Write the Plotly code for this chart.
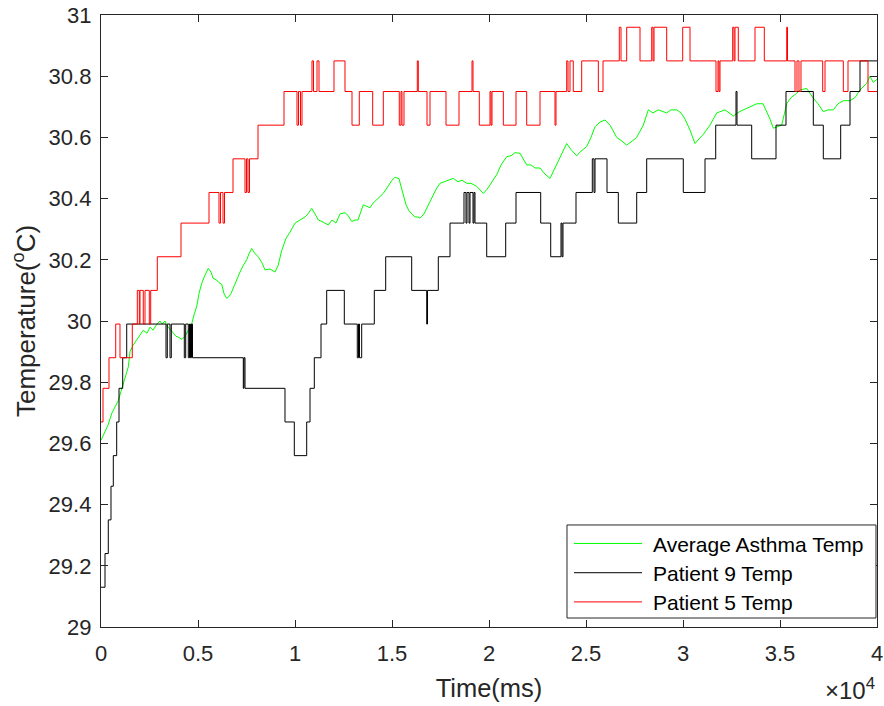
import plotly.graph_objects as go

# ---------------- data (time in ms, temperature in degC) ----------------
avg_t = [0, 67, 206, 361, 567, 722, 892, 1031, 1186, 1407, 1495, 1650, 1856, 2098, 2180, 2371, 2526, 2680,
         2887, 3041, 3144, 3299, 3454, 3608, 3727, 3866, 3985, 4175, 4330, 4485, 4675, 4794, 4933, 5052,
         5191, 5361, 5531, 5670, 5773, 5964, 6083, 6222, 6340, 6479, 6598, 6701, 6907, 7062, 7165, 7320,
         7510, 7629, 7768, 7938, 8108, 8299, 8454, 8711, 8969, 9124, 9314, 9536, 9742, 10000, 10258,
         10515, 10670, 10861, 11031, 11201, 11392, 11717, 11907, 12113, 12320, 12577, 12732, 12923, 13093,
         13247, 13521, 13866, 14021, 14279, 14552, 14794, 15000, 15155, 15361, 15464, 15583, 15722, 15876,
         16016, 16186, 16340, 16443, 16649, 16871, 17062, 17268, 17474, 17680, 17887, 18160, 18402, 18608,
         18850, 19072, 19366, 19536, 19706, 19897, 20222, 20413, 20619, 20912, 21134, 21340, 21598, 21753,
         21943, 22165, 22371, 22629, 22887, 23144, 23402, 23660, 24005, 24227, 24521, 24742, 25036, 25258,
         25464, 25722, 25979, 26237, 26392, 26583, 26804, 27098, 27320, 27613, 27784, 27954, 28212, 28454,
         28727, 28918, 29160, 29381, 29675, 29897, 30103, 30361, 30619, 30825, 31047, 31392, 31737, 32165,
         32593, 32938, 33454, 33799, 34124, 34485, 34655, 34845, 35088, 35346, 35567, 35861, 36031, 36376,
         36717, 36959, 37232, 37475, 37748, 37990, 38263, 38608, 38866, 39124, 39294, 39470, 39639, 39809,
         40000]
avg_temp = [29.61, 29.62, 29.64, 29.66, 29.70, 29.72, 29.74, 29.77, 29.80, 29.85, 29.90, 29.92, 29.94, 29.96,
            29.97, 29.96, 29.98, 29.97, 29.99, 30.00, 29.99, 30.00, 29.98, 29.97, 29.96, 29.95, 29.947, 29.94,
            29.95, 29.97, 29.99, 30.02, 30.047, 30.09, 30.123, 30.15, 30.172, 30.16, 30.14, 30.134, 30.125,
            30.12, 30.09, 30.074, 30.08, 30.09, 30.123, 30.15, 30.16, 30.18, 30.20, 30.22, 30.237, 30.22,
            30.21, 30.19, 30.167, 30.17, 30.16, 30.18, 30.23, 30.27, 30.29, 30.32, 30.33, 30.34, 30.35,
            30.368, 30.35, 30.33, 30.325, 30.314, 30.33, 30.32, 30.35, 30.354, 30.345, 30.325, 30.33, 30.33,
            30.38, 30.37, 30.385, 30.40, 30.417, 30.44, 30.46, 30.47, 30.465, 30.44, 30.41, 30.38, 30.36,
            30.35, 30.34, 30.34, 30.336, 30.35, 30.38, 30.40, 30.43, 30.45, 30.455, 30.46, 30.466, 30.455,
            30.46, 30.45, 30.45, 30.44, 30.43, 30.417, 30.43, 30.46, 30.48, 30.51, 30.537, 30.54, 30.55,
            30.548, 30.53, 30.51, 30.51, 30.50, 30.50, 30.48, 30.466, 30.50, 30.537, 30.58, 30.56, 30.54,
            30.555, 30.57, 30.60, 30.635, 30.65, 30.657, 30.64, 30.62, 30.60, 30.59, 30.575, 30.585, 30.60,
            30.62, 30.64, 30.69, 30.68, 30.69, 30.685, 30.68, 30.69, 30.69, 30.68, 30.66, 30.624, 30.58,
            30.595, 30.61, 30.64, 30.68, 30.69, 30.67, 30.685, 30.70, 30.71, 30.71, 30.66, 30.63, 30.635,
            30.64, 30.71, 30.73, 30.744, 30.755, 30.76, 30.728, 30.71, 30.684, 30.69, 30.69, 30.71, 30.72,
            30.72, 30.73, 30.755, 30.766, 30.777, 30.80, 30.78, 30.79]

p9_t = [0, 206, 376, 515, 634, 809, 928, 1119, 1325, 3351, 3418, 3557, 3624, 4294, 4366, 4500, 4562, 4613,
        4665, 4716, 7335, 7371, 7423, 9484, 9964, 10603, 10773, 10995, 11340, 11634, 12541, 13211, 13273,
        13325, 13438, 14088, 14675, 16015, 16789, 16830, 17387, 17990, 18711, 18814, 18866, 18969, 19021,
        19175, 19227, 19278, 19882, 20861, 21392, 22665, 23181, 23711, 23763, 23814, 24485, 25325, 25413,
        25464, 26083, 26666, 27614, 28129, 30015, 31134, 31686, 32732, 32784, 33541, 34794, 35309, 36717,
        37232, 38128, 38608, 39124, 40000]
p9_temp = [29.13, 29.24, 29.35, 29.46, 29.56, 29.67, 29.78, 29.88, 29.99, 29.88, 29.99, 29.88, 29.99, 29.88,
           29.99, 29.88, 29.99, 29.88, 29.99, 29.88, 29.78, 29.88, 29.78, 29.67, 29.56, 29.67, 29.78, 29.88,
           29.99, 30.10, 29.99, 29.88, 29.99, 29.88, 29.99, 30.10, 30.21, 30.10, 29.99, 30.10, 30.21, 30.32,
           30.42, 30.32, 30.42, 30.32, 30.42, 30.32, 30.42, 30.32, 30.21, 30.32, 30.42, 30.32, 30.21, 30.32,
           30.21, 30.32, 30.42, 30.53, 30.42, 30.53, 30.42, 30.32, 30.42, 30.53, 30.42, 30.53, 30.64, 30.75,
           30.64, 30.53, 30.64, 30.75, 30.64, 30.53, 30.64, 30.75, 30.85, 30.85]

p5_t = [0, 103, 412, 758, 979, 1613, 1871, 1974, 2010, 2180, 2268, 2490, 2562, 2902, 4124, 5567, 6082, 6160,
        6289, 6366, 6804, 7423, 7500, 7577, 7655, 8093, 9433, 10103, 10180, 10284, 10361, 10876, 10954,
        11134, 11237, 12010, 12577, 12938, 13314, 14005, 14552, 15376, 15464, 15515, 15618, 16304, 16356,
        16804, 16959, 17784, 18454, 19124, 19175, 19500, 20052, 20103, 20155, 20738, 21392, 21943, 22629,
        23402, 23454, 24005, 24072, 24175, 24345, 24778, 25636, 25877, 26717, 26804, 27098, 27784, 28387,
        28454, 28506, 29160, 29985, 30361, 31701, 31804, 31856, 31907, 32562, 32629, 32681, 32851, 33711,
        34191, 35346, 35387, 35773, 35876, 35979, 36082, 37201, 37320, 38263, 38505, 39536, 40000]
p5_temp = [29.67, 29.78, 29.88, 29.99, 29.88, 29.99, 30.10, 29.99, 30.10, 29.99, 30.10, 29.99, 30.10, 30.21,
           30.32, 30.42, 30.32, 30.42, 30.32, 30.42, 30.53, 30.42, 30.53, 30.42, 30.53, 30.64, 30.75, 30.64,
           30.75, 30.64, 30.75, 30.85, 30.75, 30.85, 30.75, 30.85, 30.75, 30.64, 30.75, 30.64, 30.75, 30.64,
           30.75, 30.64, 30.75, 30.85, 30.75, 30.64, 30.75, 30.64, 30.75, 30.85, 30.75, 30.64, 30.75, 30.64,
           30.75, 30.64, 30.75, 30.64, 30.75, 30.64, 30.75, 30.85, 30.75, 30.85, 30.75, 30.85, 30.75, 30.85,
           30.96, 30.85, 30.96, 30.85, 30.96, 30.85, 30.96, 30.85, 30.96, 30.85, 30.75, 30.85, 30.75, 30.85,
           30.96, 30.85, 30.96, 30.85, 30.96, 30.85, 30.96, 30.85, 30.75, 30.85, 30.75, 30.85, 30.75, 30.85,
           30.75, 30.85, 30.75, 30.75]

series_names = ["Average Asthma Temp", "Patient 9 Temp", "Patient 5 Temp"]
series_colors = ["#00FF00", "#000000", "#FF0000"]

x_tickvals = [0, 5000, 10000, 15000, 20000, 25000, 30000, 35000, 40000]
x_ticktext = ["0", "0.5", "1", "1.5", "2", "2.5", "3", "3.5", "4"]
y_tickvals = [29, 29.2, 29.4, 29.6, 29.8, 30, 30.2, 30.4, 30.6, 30.8, 31]
y_ticktext = ["29", "29.2", "29.4", "29.6", "29.8", "30", "30.2", "30.4", "30.6", "30.8", "31"]

FONT = "Liberation Sans, Arial, Helvetica, sans-serif"
AX = "#262626"

fig = go.Figure()
fig.add_trace(go.Scatter(x=avg_t, y=avg_temp, mode="lines", name=series_names[0],
                         line=dict(color=series_colors[0], width=1)))
fig.add_trace(go.Scatter(x=p9_t, y=p9_temp, mode="lines", name=series_names[1],
                         line=dict(color=series_colors[1], width=1, shape="hv")))
fig.add_trace(go.Scatter(x=p5_t, y=p5_temp, mode="lines", name=series_names[2],
                         line=dict(color=series_colors[2], width=1, shape="hv")))

axis_common = dict(showgrid=False, zeroline=False, showline=True, linecolor=AX, linewidth=1.3,
                   mirror="ticks", ticks="inside", ticklen=7, tickwidth=1.3, tickcolor=AX,
                   automargin=False, tickfont=dict(family=FONT, size=22, color=AX))

fig.update_layout(
    width=884, height=706,
    margin=dict(l=101, r=7, t=15, b=79),
    paper_bgcolor="white", plot_bgcolor="white",
    font=dict(family=FONT, color=AX),
    showlegend=False,
    xaxis=dict(range=[0, 40000], tickvals=x_tickvals, ticktext=x_ticktext, ticklabelstandoff=6,
               title=dict(text="Time(ms)", font=dict(family=FONT, size=25.5, color=AX), standoff=14),
               **axis_common),
    yaxis=dict(range=[29, 31], tickvals=y_tickvals, ticktext=y_ticktext, ticklabelstandoff=4,
               title=dict(text="Temperature(<sup>o</sup>C)", font=dict(family=FONT, size=26, color=AX),
                          standoff=5),
               **axis_common),
)

# legend drawn in the MATLAB style (box + long line samples), text kept as real text
leg_x0, leg_x1, leg_y0, leg_y1 = 0.6005, 0.9987, 0.0147, 0.1667
fig.add_shape(type="rect", xref="paper", yref="paper", x0=leg_x0, x1=leg_x1, y0=leg_y0, y1=leg_y1,
              line=dict(color=AX, width=1), fillcolor="white", layer="above")
leg_rows = [0.1365, 0.0887, 0.0410]
for name, color, yy in zip(series_names, series_colors, leg_rows):
    fig.add_shape(type="line", xref="paper", yref="paper", x0=0.6095, x1=0.6972, y0=yy, y1=yy,
                  line=dict(color=color, width=1), layer="above")
    fig.add_annotation(xref="paper", yref="paper", x=0.7088, y=yy, xanchor="left", yanchor="middle",
                       text=name, showarrow=False, yshift=-1,
                       font=dict(family=FONT, size=21, color="#000000"))

fig.add_annotation(xref="paper", yref="paper", x=1.0, y=0, xanchor="right", yanchor="top", yshift=-45,
                   text="\u00d710<sup>4</sup>", showarrow=False,
                   font=dict(family=FONT, size=24, color=AX))

fig.write_html("out.html")
